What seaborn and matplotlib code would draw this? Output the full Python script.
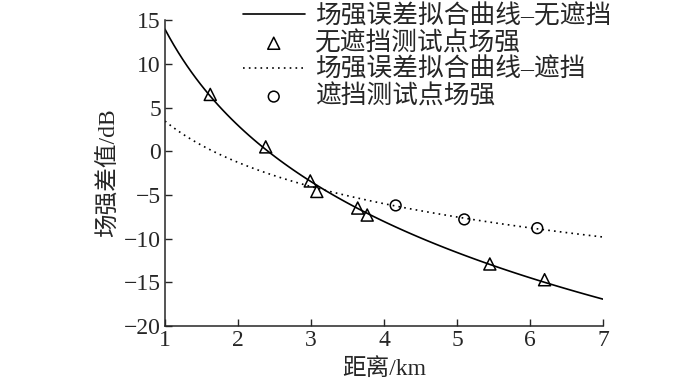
import numpy as np
import pandas as pd
import matplotlib
matplotlib.use("Agg")
import matplotlib.pyplot as plt
import seaborn as sns

dist_clear = [1.62, 2.38, 2.99, 3.08, 3.64, 3.77, 5.45, 6.20]
diff_clear = [6.5, 0.5, -3.4, -4.6, -6.5, -7.3, -12.9, -14.7]
dist_block = [4.16, 5.10, 6.10]
diff_block = [-6.2, -7.8, -8.8]

labels = ['场强误差拟合曲线–无遮挡', '无遮挡测试点场强',
          '场强误差拟合曲线–遮挡', '遮挡测试点场强']
xticks = [1, 2, 3, 4, 5, 6, 7]
yticks = [-20, -15, -10, -5, 0, 5, 10, 15]

sns.set_style('ticks')
plt.rcParams['font.family'] = ['Liberation Serif', 'Noto Sans CJK SC']
plt.rcParams['axes.unicode_minus'] = True

df_c = pd.DataFrame({'d': dist_clear, 'v': diff_clear})
df_b = pd.DataFrame({'d': dist_block, 'v': diff_block})

fig = plt.figure(figsize=(7, 3.8), dpi=100)
ax = fig.add_axes([0.2357, 0.142, 0.6257, 0.805])
ax.set_xlim(1, 7)
ax.set_ylim(-20, 15)

# log fits y = a + b ln(x), extended to the full x range
sns.regplot(data=df_c, x='d', y='v', logx=True, ci=None, scatter=False,
            truncate=False, color='black', label=labels[0],
            line_kws={'lw': 1.2, 'ls': '-'}, ax=ax)
sns.regplot(data=df_b, x='d', y='v', logx=True, ci=None, scatter=False,
            truncate=False, color='black', label=labels[2],
            line_kws={'lw': 1.2, 'ls': (0, (1, 2.5))}, ax=ax)
sns.scatterplot(data=df_c, x='d', y='v', marker='^', s=75, facecolor='none',
                edgecolor='black', linewidth=1.1, label=labels[1], ax=ax, zorder=3)
sns.scatterplot(data=df_b, x='d', y='v', marker='o', s=60, facecolor='none',
                edgecolor='black', linewidth=1.1, label=labels[3], ax=ax, zorder=3)

ax.set_xlim(1, 7)
ax.set_ylim(-20, 15)
ax.set_xticks(xticks)
ax.set_yticks(yticks)
ax.tick_params(direction='in', length=5, width=1, labelsize=17, pad=3)
for s in ['left', 'bottom']:
    ax.spines[s].set_linewidth(1.1)
sns.despine(ax=ax)
ax.set_xlabel('距离/km', fontsize=17, labelpad=5)
ax.set_ylabel('场强差值/dB', fontsize=17, labelpad=3)

handles, lbls = ax.get_legend_handles_labels()
order = [lbls.index(l) for l in labels]
if ax.get_legend():
    ax.get_legend().remove()
fig.legend([handles[i] for i in order], [lbls[i] for i in order],
           loc='upper left', bbox_to_anchor=(0.347, 0.99), frameon=False,
           fontsize=18.5, handlelength=2.4, handletextpad=0.4,
           labelspacing=0.1, borderpad=0, borderaxespad=0)

fig.savefig('out.png', dpi=100)
